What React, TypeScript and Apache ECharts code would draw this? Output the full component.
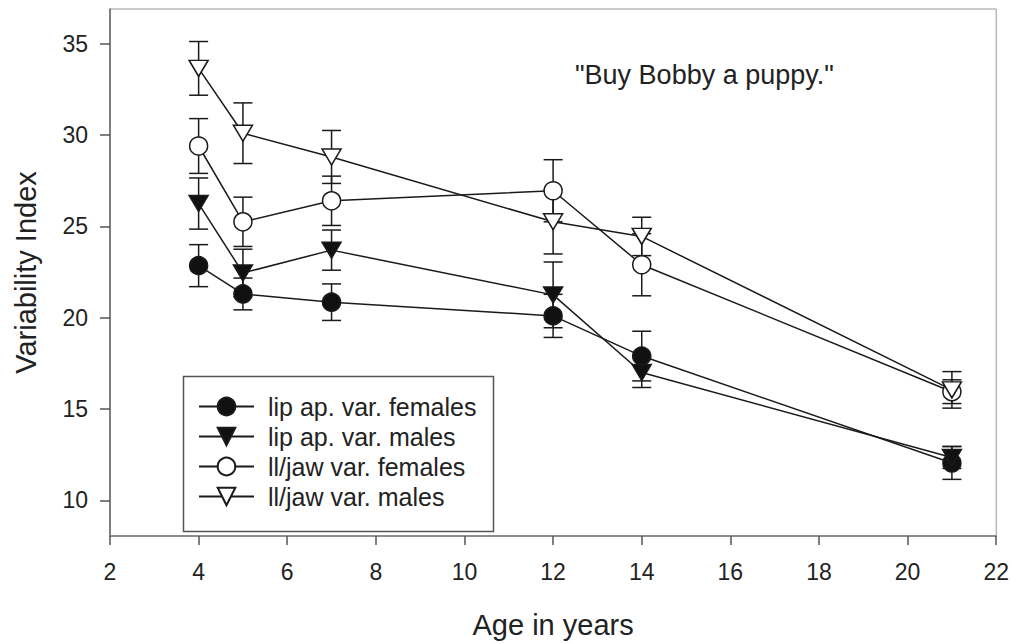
import { useEffect, useRef } from "react";
import * as echarts from "echarts";

// ---- data ----
const ages = [4, 5, 7, 12, 14, 21];

const lipFemales = [22.85, 21.3, 20.85, 20.1, 17.9, 12.05];
const lipFemalesErr = [1.15, 0.87, 1.0, 1.18, 1.36, 0.9];

const lipMales = [26.25, 22.45, 23.7, 21.25, 17.0, 12.35];
const lipMalesErr = [1.4, 1.3, 1.1, 1.8, 0.82, 0.6];

const jawFemales = [29.4, 25.25, 26.4, 26.95, 22.9, 15.95];
const jawFemalesErr = [1.5, 1.35, 1.35, 1.7, 1.7, 0.65];

const jawMales = [33.65, 30.1, 28.8, 25.25, 24.45, 16.05];
const jawMalesErr = [1.47, 1.66, 1.45, 1.76, 1.05, 1.0];

const seriesNames = [
  "lip ap. var. females",
  "lip ap. var. males",
  "ll/jaw var. females",
  "ll/jaw var. males",
];

const yTickValues = [10, 15, 20, 25, 30, 35];
const xMin = 2;
const xMax = 22;
const xStep = 2;
const yMin = 8.05;
const yMax = 36.9;

const xTitle = "Age in years";
const yTitle = "Variability Index";
const annotation = '"Buy Bobby a puppy."';

const FONT = "'Liberation Sans', Arial, Helvetica, sans-serif";
const INK = "#1a1a1a";

export default function App() {
  const ref = useRef<HTMLDivElement>(null);

  useEffect(() => {
    if (!ref.current) return;
    const chart = echarts.init(ref.current, undefined, { renderer: "svg" });

    const groups = [
      { name: seriesNames[0], vals: lipFemales, errs: lipFemalesErr, symbol: "circle", filled: true },
      { name: seriesNames[1], vals: lipMales, errs: lipMalesErr, symbol: "triangle", filled: true },
      { name: seriesNames[2], vals: jawFemales, errs: jawFemalesErr, symbol: "circle", filled: false },
      { name: seriesNames[3], vals: jawMales, errs: jawMalesErr, symbol: "triangle", filled: false },
    ];

    const series: any[] = [];
    groups.forEach((g) => {
      series.push({
        type: "custom",
        name: g.name + " error",
        data: ages.map((a, i) => [a, g.vals[i], g.errs[i]]),
        encode: { x: 0, y: 1 },
        silent: true,
        renderItem: (_params: any, api: any) => {
          const x = api.value(0);
          const v = api.value(1);
          const e = api.value(2);
          const top = api.coord([x, v + e]);
          const bot = api.coord([x, v - e]);
          const hw = 9.5;
          const style = { stroke: INK, lineWidth: 1.5, fill: "none" };
          return {
            type: "group",
            children: [
              { type: "line", shape: { x1: top[0], y1: top[1], x2: bot[0], y2: bot[1] }, style },
              { type: "line", shape: { x1: top[0] - hw, y1: top[1], x2: top[0] + hw, y2: top[1] }, style },
              { type: "line", shape: { x1: bot[0] - hw, y1: bot[1], x2: bot[0] + hw, y2: bot[1] }, style },
            ],
          };
        },
      });
      series.push({
        type: "line",
        name: g.name,
        data: ages.map((a, i) => [a, g.vals[i]]),
        symbol: g.symbol,
        symbolSize: g.symbol === "circle" ? 18 : [19, 16],
        symbolRotate: g.symbol === "triangle" ? 180 : 0,
        showAllSymbol: true,
        lineStyle: { color: INK, width: 1.5 },
        itemStyle: {
          color: g.filled ? "#111" : "#fff",
          borderColor: INK,
          borderWidth: 1.5,
          opacity: 1,
        },
        emphasis: { disabled: true },
      });
    });

    chart.setOption({
      animation: false,
      backgroundColor: "#fff",
      grid: {
        left: 110,
        right: 15,
        top: 9,
        bottom: 105,
        show: true,
        borderColor: "#999",
        borderWidth: 1,
      },
      xAxis: {
        type: "value",
        min: xMin,
        max: xMax,
        interval: xStep,
        name: xTitle,
        nameLocation: "middle",
        nameGap: 74,
        nameTextStyle: { fontSize: 29, color: "#222", fontFamily: FONT },
        axisLine: { show: true, lineStyle: { color: "#777", width: 1.5 } },
        axisTick: { show: true, inside: false, length: 9, lineStyle: { color: "#555", width: 1.5 } },
        axisLabel: { fontSize: 23, color: "#222", fontFamily: FONT, margin: 24 },
        splitLine: { show: false },
      },
      yAxis: {
        type: "value",
        min: yMin,
        max: yMax,
        name: yTitle,
        nameLocation: "middle",
        nameGap: 70,
        nameTextStyle: { fontSize: 29, color: "#222", fontFamily: FONT },
        axisLine: { show: true, lineStyle: { color: "#666", width: 1.5 } },
        axisTick: {
          show: true,
          inside: false,
          length: 10,
          customValues: yTickValues,
          lineStyle: { color: "#555", width: 1.5 },
        },
        axisLabel: {
          fontSize: 23,
          color: "#222",
          fontFamily: FONT,
          margin: 22,
          customValues: yTickValues,
        },
        splitLine: { show: false },
      },
      legend: {
        data: seriesNames,
        orient: "vertical",
        left: 198,
        top: 394,
        itemWidth: 55,
        itemHeight: 22,
        itemGap: 5,
        padding: 0,
        selectedMode: false,
        textStyle: {
          fontSize: 25,
          color: "#222",
          fontFamily: FONT,
          padding: [0, 0, 0, 9],
        },
      },
      graphic: [
        {
          type: "rect",
          left: 181,
          top: 374,
          shape: { width: 310, height: 155 },
          style: { fill: "none", stroke: "#555", lineWidth: 1.5 },
          silent: true,
        },
        {
          type: "text",
          x: 575,
          y: 75,
          style: {
            text: annotation,
            fontSize: 27,
            fontFamily: FONT,
            fill: "#222",
            textVerticalAlign: "middle",
            verticalAlign: "middle",
          },
          silent: true,
        },
      ],
      series,
    });

    return () => chart.dispose();
  }, []);

  return (
    <div
      ref={ref}
      style={{ position: "absolute", left: 0, top: 0, width: 1012, height: 644 }}
    />
  );
}
